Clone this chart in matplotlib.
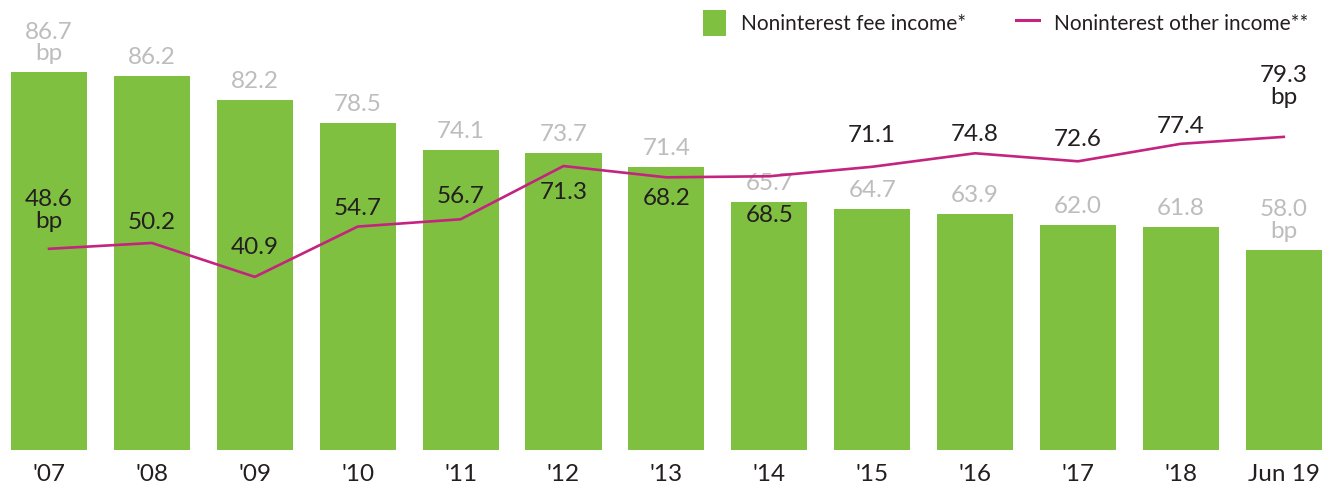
import matplotlib
matplotlib.use('Agg')
import matplotlib.pyplot as plt
from matplotlib.patches import Patch
from matplotlib.lines import Line2D

#chart data
periods = ["'07", "'08", "'09", "'10", "'11", "'12", "'13", "'14", "'15", "'16", "'17", "'18", "Jun 19"]
fee_income = [86.7, 86.2, 82.2, 78.5, 74.1, 73.7, 71.4, 65.7, 64.7, 63.9, 62.0, 61.8, 58.0]
other_income = [48.6, 50.2, 40.9, 54.7, 56.7, 71.3, 68.2, 68.5, 71.1, 74.8, 72.6, 77.4, 79.3]

#label offsets for the line values (pixels, negative = above line)
line_label_dy = [-38, -20, -29, -18, -23, 26, 21, 39, -31, -19, -22, -17, -50]

green = '#80c041'
magenta = '#c4237f'
gray = '#bdbdbd'
dark = '#231f20'

plt.rcParams['font.family'] = ['Lato', 'DejaVu Sans']

fig = plt.figure(figsize=(13.25, 4.92), dpi=100)
ax = fig.add_axes([0, 1 - 450 / 492, 1, 450 / 492])
ax2 = ax.twinx()

x = list(range(len(periods)))
#bar axis does not start at zero in the original
ax.bar(x, fee_income, width=0.74, bottom=0, color=green, zorder=1)
ax.set_ylim(25.7, 98.4)
ax.set_xlim(-49 / 102.9, (1325 - 49) / 102.9)

ax2.plot(x, other_income, color=magenta, linewidth=1.9, zorder=3)
ax2.set_ylim(-24 / 3.646, 426 / 3.646)
ax2.set_xlim(ax.get_xlim())

#bar labels
for i, v in enumerate(fee_income):
    txt = '%.1f' % v
    if i == 0 or i == len(fee_income) - 1:
        txt += '\nbp'
    ax.annotate(txt, (i, v), xytext=(0, 8), textcoords='offset pixels',
                ha='center', va='bottom', color=gray, fontsize=17.5, linespacing=1.05)

#line labels
for i, v in enumerate(other_income):
    txt = '%.1f' % v
    if i == 0 or i == len(other_income) - 1:
        txt += '\nbp'
    ax2.annotate(txt, (i, v), xytext=(0, -line_label_dy[i]), textcoords='offset pixels',
                 ha='center', va='center', color=dark, fontsize=17.5, linespacing=1.05,
                 zorder=4)

ax.set_xticks(x)
ax.set_xticklabels(periods, fontsize=17.5, color=dark)
ax.tick_params(axis='x', length=0, pad=10)
ax.set_yticks([])
ax2.set_yticks([])
for a in (ax, ax2):
    for s in a.spines.values():
        s.set_visible(False)

handles = [Patch(facecolor=green, edgecolor='none'),
           Line2D([], [], color=magenta, linewidth=2.2)]
fig.legend(handles, ['Noninterest fee income*', 'Noninterest other income**'],
           loc='upper right', bbox_to_anchor=(0.995, 1.0), ncol=2, frameon=False,
           fontsize=15, handlelength=1.1, handleheight=1.5, columnspacing=2.4,
           handletextpad=0.7, labelcolor=dark, borderaxespad=0.1)

fig.savefig('out.png', dpi=100)
